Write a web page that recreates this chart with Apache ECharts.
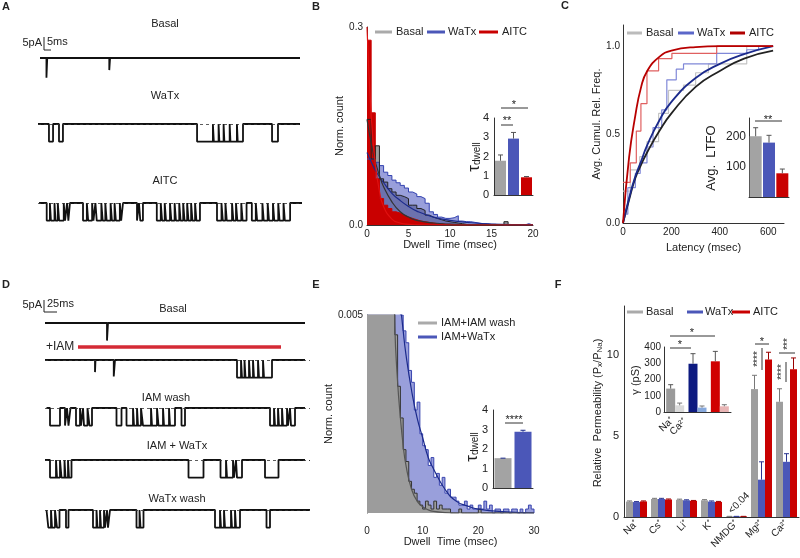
<!DOCTYPE html>
<html>
<head>
<meta charset="utf-8">
<title>Single channel recordings</title>
<script src="https://cdn.jsdelivr.net/npm/echarts@6.0.0/dist/echarts.min.js"></script>
<style>
  html, body { margin: 0; padding: 0; background: #fff; }
  #chart { width: 800px; height: 558px; }
</style>
</head>
<body>
<div id="chart"></div>
<script>
const FONT = '"Liberation Sans", Arial, Helvetica, sans-serif';
const GRAY = '#a0a0a0', BLUE = '#4b57b8', RED = '#c90000', NAVY = '#1b2a8c';

// ---- A: example traces, time in ms (0-200), openings [start, end, amp pA]
const aBasalOpen = [[6.4, 7.0, -9], [54.0, 54.6, -5.5]];
const aWatxOpen = [[8.3, 11.4], [15.9, 18.9], [120.5, 132.5], [133.2, 136.8], [137.4, 140.6],
  [141.2, 145.2], [145.8, 150.7], [151.3, 155.3], [177.3, 181.8]];
const aAitcOpen = [[6.6, 9], [9.8, 12.5], [13.3, 15], [16, 19.5], [20.5, 22], [23, 24.2],
  [34.1, 37], [38, 41], [42, 43.5], [44.5, 48], [49, 51], [52, 55], [56, 58], [59, 62], [63, 64.4],
  [75, 76.5], [77.5, 79.5],
  [90, 93], [94, 96], [97, 100], [101, 103.5], [104.5, 107], [108, 110], [111, 113], [114, 116], [117, 119], [120, 122.7],
  [135.6, 139], [140, 142], [143, 147], [148, 150], [151, 154], [155, 158],
  [162, 165], [166, 170], [171, 174], [175, 178], [179, 182], [183, 186], [187, 191]];

// ---- D: IAM traces, time in ms (0-530)
const dBasalOpen = [[124, 126, -8]];
const dIamOpen = [[100, 101, -5.5], [137.5, 140, -7.5], [384, 392], [394, 399], [401, 408], [410, 416],
  [418, 426], [428, 436], [438, 454]];
const dWashOpen = [[10, 30], [40, 44], [47, 51], [62, 70], [72, 76], [78, 85], [89, 94], [143, 153],
  [163, 176], [178, 184], [186, 192], [196, 212], [214, 224], [227, 236], [238, 248], [250, 260], [273, 280],
  [450, 458], [460, 466], [468, 474], [476, 484], [486, 490], [492, 500]];
const dIamWatxOpen = [[10, 22], [24, 30], [33, 39], [41, 46], [48, 53], [287, 317], [351, 362], [364, 376],
  [378, 382], [384, 394], [440, 467]];
const dWatxWashOpen = [[6.7, 12], [14, 20], [24, 29], [42, 47], [96, 103], [105, 110], [112, 118], [120, 124],
  [126, 130], [183, 189], [191, 197], [340, 350], [352, 358], [360, 372], [374, 380], [382, 390], [443, 450]];

// ---- B: dwell time histograms, 0.5 ms bins
const bBin = 0.5;
const bBasal = [0.16, 0.10, 0.12, 0.07, 0.065, 0.055, 0.05, 0.045, 0.043, 0.04,
  0.03, 0.03, 0.025, 0.022, 0.015, 0.012, 0.01, 0.008, 0.006, 0.005,
  0.004, 0.003, 0.002, 0.001, 0, 0, 0, 0, 0, 0,
  0, 0, 0, 0.005, 0, 0, 0, 0, 0, 0];
const bWatx = [0.10, 0.10, 0.095, 0.09, 0.08, 0.075, 0.068, 0.064, 0.06, 0.056,
  0.05, 0.047, 0.043, 0.04, 0.033, 0.02, 0.016, 0.012, 0.01, 0.01,
  0.011, 0.014, 0.006, 0.005, 0.005, 0.004, 0.003, 0.002, 0.002, 0.001,
  0.001, 0, 0, 0, 0, 0, 0, 0, 0.002, 0];
const bAitc = [0.28, 0.17, 0.07, 0.04, 0.03, 0.025, 0.02, 0.018, 0.015, 0.012,
  0.01, 0.008, 0.006, 0.005, 0.004, 0.003, 0.002, 0.002, 0.001, 0.001,
  0, 0, 0, 0, 0, 0, 0, 0, 0, 0,
  0, 0, 0, 0, 0, 0, 0, 0, 0, 0];
const bFitT = [0, 0.5, 1, 1.5, 2, 3, 4, 5, 6, 8, 10, 12, 15, 20];
const bBasalFit = [0.16, 0.124, 0.096, 0.075, 0.058, 0.035, 0.02, 0.012, 0.007, 0.003, 0.0012, 0.0005, 0.0001, 0];
const bWatxFit = [0.11, 0.096, 0.083, 0.073, 0.064, 0.048, 0.037, 0.028, 0.021, 0.012, 0.007, 0.004, 0.0015, 0.0003];
const bAitcFit = [0.30, 0.166, 0.092, 0.051, 0.028, 0.009, 0.003, 0.001, 0.0003, 0, 0, 0, 0, 0];
const tauCats = ['Basal', 'WaTx', 'AITC'];
const tauMean = [1.78, 2.93, 0.92];
const tauErr = [0.3, 0.32, 0.04];

// ---- C: cumulative latency to first opening
const cAitcStepT = [0, 30, 55, 74, 99, 147, 202, 387, 620];
const cAitcStepV = [0.23, 0.34, 0.52, 0.675, 0.86, 0.93, 0.96, 1.0, 1.0];
const cWatxStepT = [0, 20, 51, 71, 99, 124, 160, 181, 220, 250, 387, 511, 560, 620];
const cWatxStepV = [0.05, 0.2, 0.28, 0.34, 0.43, 0.54, 0.64, 0.81, 0.87, 0.9, 0.96, 0.98, 1.0, 1.0];
const cBasalStepT = [0, 30, 69, 99, 147, 188, 250, 300, 353, 511, 620];
const cBasalStepV = [0.18, 0.3, 0.375, 0.46, 0.62, 0.75, 0.78, 0.85, 0.9, 1.0, 1.0];
const cFitT = [0, 25, 50, 75, 100, 150, 200, 300, 400, 500, 620];
const cAitcFit = [0, 0.37, 0.6, 0.77, 0.86, 0.94, 0.975, 0.995, 1, 1, 1];
const cWatxFit = [0, 0.14, 0.26, 0.35, 0.44, 0.58, 0.685, 0.82, 0.9, 0.955, 1.0];
const cBasalFit = [0, 0.13, 0.25, 0.33, 0.40, 0.52, 0.62, 0.77, 0.86, 0.93, 0.975];
const ltfoMean = [200, 179, 78];
const ltfoErr = [28, 24, 14];

// ---- E: IAM dwell time histograms, 0.5 ms bins
const eBin = 0.5;
const eWatx = [0.01, 0.01, 0.01, 0.01, 0.01, 0.01, 0.01, 0.01, 0.01, 0.01,
  0.0065, 0.0055, 0.005, 0.0046, 0.0043, 0.0036, 0.0033, 0.0026, 0.0028, 0.002,
  0.0017, 0.0016, 0.0012, 0.0014, 0.0009, 0.001, 0.0007, 0.0009, 0.0005, 0.0006,
  0.0004, 0.0004, 0.0003, 0.0002, 0.0002, 0.0003, 0.0001, 0.0002, 0.0001, 0.0001,
  0.0002, 0.0001, 0.0003, 0.0001, 0.0002, 0, 0.0001, 0.0001, 0, 0.0001,
  0.0001, 0, 0.0001, 0.0001, 0, 0.0001, 0, 0.0001, 0.0002, 0.0001];
const eBasal = [0.01, 0.01, 0.01, 0.01, 0.01, 0.01, 0.01, 0.01, 0.01, 0.01,
  0.0045, 0.0032, 0.0024, 0.0016, 0.0013, 0.0008, 0.0006, 0.0005, 0.0003, 0.0002,
  0.0001, 0.0003, 0.0002, 0.0001, 0.0003, 0.0001, 0.0002, 0.0001, 0.0001, 0.0001,
  0, 0, 0, 0.0001, 0, 0, 0, 0, 0, 0,
  0.0001, 0, 0, 0, 0, 0, 0, 0, 0, 0,
  0, 0, 0, 0, 0, 0, 0, 0, 0, 0];
const eFitT = [4, 5, 5.5, 6, 6.5, 7, 8, 9, 10, 11, 12, 14, 16, 18, 20, 25, 30];
const eBasalFit = [0.011, 0.0047, 0.0033, 0.0024, 0.0017, 0.0012, 0.0006, 0.0003, 0.00016, 0.00008, 0.00004, 0.00001, 0, 0, 0, 0, 0];
const eWatxFit = [0.011, 0.0072, 0.0062, 0.0053, 0.0046, 0.004, 0.0031, 0.0024, 0.0019, 0.0014, 0.0011, 0.0006, 0.0003, 0.00018, 0.0001, 0.00003, 0];
const eTauCats = ['IAM+IAM wash', 'IAM+WaTx'];
const eTauMean = [1.53, 2.89];
const eTauErr = [0, 0.07];

// ---- F: relative permeability
const ions = ['Na⁺', 'Cs⁺', 'Li⁺', 'K⁺', 'NMDG⁺', 'Mg²⁺', 'Ca²⁺'];
const fBasal = [0.95, 1.11, 1.06, 1.03, 0.04, 7.88, 7.1];
const fBasalErr = [0.04, 0.04, 0.04, 0.04, 0, 0.85, 0.8];
const fWatx = [0.92, 1.11, 1.03, 0.95, 0.04, 2.3, 3.4];
const fWatxErr = [0.03, 0.04, 0.03, 0.04, 0, 1.1, 0.5];
const fAitc = [0.96, 1.08, 1.0, 0.93, 0.04, 9.7, 9.1];
const fAitcErr = [0.03, 0.03, 0.02, 0.03, 0, 0.45, 0.7];
const gCats = ['Basal', 'WaTx', 'AITC'];
const gNa = [144, 297, 312];
const gNaErr = [24, 62, 61];
const gCa = [41, 27, 35];
const gCaErr = [14, 10, 10];

// ---------- helpers ----------
function hist(vals, w) {
  const p = vals.map((v, i) => [i * w, v]);
  p.push([vals.length * w, vals[vals.length - 1]], [vals.length * w, 0]);
  return p;
}
function pairs(t, v) { return t.map((x, i) => [x, v[i]]); }
function trace(t0, t1, events) {
  const pts = [[t0, 0]];
  events.forEach(e => {
    const a = e.length > 2 ? e[2] : -8;
    pts.push([e[0], 0], [e[0], a], [e[1], a], [e[1], 0]);
  });
  pts.push([t1, 0]);
  return pts;
}

const axLine = { show: true, onZero: false, lineStyle: { color: '#333', width: 1 } };
const noTick = { show: false };
const noSplit = { show: false };
const lab = o => Object.assign({ color: '#222', fontSize: 10, fontFamily: FONT, margin: 4 }, o || {});
const nameStyle = { color: '#222', fontSize: 11, fontFamily: FONT };

function valAxis(gi, min, max, interval, o) {
  return Object.assign({
    gridIndex: gi, type: 'value', min, max, interval,
    axisLine: axLine, axisTick: noTick, splitLine: noSplit, axisLabel: lab()
  }, o || {});
}
function catAxis(gi, cats, o) {
  return Object.assign({
    gridIndex: gi, type: 'category', data: cats,
    axisLine: axLine, axisTick: noTick, splitLine: noSplit, axisLabel: { show: false }
  }, o || {});
}
function hidden(gi, min, max) {
  return { gridIndex: gi, type: 'value', min, max, show: false };
}

function errBars(gi, means, errs, nSer, idx, barW, color) {
  return {
    type: 'custom', xAxisIndex: gi, yAxisIndex: gi, silent: true, z: 3,
    data: means.map((m, i) => [i, m, m + errs[i]]),
    renderItem: (p, api) => {
      const a = api.coord([api.value(0), api.value(1)]);
      const b = api.coord([api.value(0), api.value(2)]);
      const x = a[0] + (idx - (nSer - 1) / 2) * barW;
      return {
        type: 'group', children: [
          { type: 'line', shape: { x1: x, y1: a[1], x2: x, y2: b[1] }, style: { stroke: color, lineWidth: 1 } },
          { type: 'line', shape: { x1: x - 2.5, y1: b[1], x2: x + 2.5, y2: b[1] }, style: { stroke: color, lineWidth: 1 } }
        ]
      };
    }
  };
}
function colored(vals, colors) {
  return vals.map((v, i) => ({ value: v, itemStyle: { color: colors[i] } }));
}

// ---------- grids ----------
const grids = [
  { left: 367, top: 27, width: 166, height: 198 },   // 0 B
  { left: 494, top: 118, width: 39, height: 77 },    // 1 B inset
  { left: 623, top: 25, width: 161, height: 198 },   // 2 C
  { left: 749, top: 118, width: 40, height: 79 },    // 3 C inset
  { left: 367, top: 315, width: 167, height: 198 },  // 4 E
  { left: 493, top: 410, width: 40, height: 78 },    // 5 E inset
  { left: 624, top: 306, width: 175, height: 211 },  // 6 F
  { left: 664, top: 347, width: 67, height: 65 }     // 7 F inset
];
const aBase = [58, 124, 203];
const dBase = [323, 360, 408, 460, 510];
const PX_PA = 2.2;
aBase.forEach(b => grids.push({ left: 38, top: b - 2 * PX_PA, width: 264, height: 12 * PX_PA }));
dBase.forEach(b => grids.push({ left: 45, top: b - 2 * PX_PA, width: 265, height: 12 * PX_PA }));
grids.forEach(g => { g.containLabel = false; g.outerBoundsMode = 'none'; });

const xAxes = [
  valAxis(0, 0, 20, 5, { name: 'Dwell  Time (msec)', nameLocation: 'middle', nameGap: 14, nameTextStyle: nameStyle }),
  catAxis(1, tauCats),
  valAxis(2, 0, 665, 200, { axisLabel: lab({ showMaxLabel: false }), name: 'Latency (msec)', nameLocation: 'middle', nameGap: 19, nameTextStyle: nameStyle }),
  catAxis(3, tauCats),
  valAxis(4, 0, 30, 10, { axisLine: { show: false }, axisLabel: lab({ margin: 13 }), name: 'Dwell  Time (msec)', nameLocation: 'middle', nameGap: 20, nameTextStyle: nameStyle }),
  catAxis(5, eTauCats),
  catAxis(6, ions, { axisLabel: { show: true, rotate: 45, interval: 0, color: '#222', fontSize: 10, fontFamily: FONT, margin: 5 } }),
  catAxis(7, gCats)
];
const yAxes = [
  valAxis(0, 0, 0.3, 0.3, { axisLabel: lab({ formatter: v => v.toFixed(1) }), name: 'Norm. count', nameLocation: 'middle', nameGap: 10, nameTextStyle: nameStyle }),
  valAxis(1, 0, 4, 1, { axisLabel: lab({ fontSize: 11, margin: 5 }) }),
  valAxis(2, 0, 1.12, 0.5, { axisLabel: lab({ formatter: v => v.toFixed(1), showMaxLabel: false, margin: 3 }), name: 'Avg. Cumul. Rel. Freq.', nameLocation: 'middle', nameGap: 20, nameTextStyle: nameStyle }),
  valAxis(3, 0, 260, 100, { axisLabel: lab({ fontSize: 12, showMinLabel: false, showMaxLabel: false, margin: 3 }) }),
  valAxis(4, 0, 0.005, 0.005, { axisLabel: lab({ formatter: v => (v ? '0.005' : '') }), name: 'Norm. count', nameLocation: 'middle', nameGap: 10, nameTextStyle: nameStyle }),
  valAxis(5, 0, 4, 1, { axisLabel: lab({ fontSize: 11, margin: 5 }) }),
  valAxis(6, 0, 13, 5, { axisLabel: lab({ fontSize: 11, showMaxLabel: false, margin: 5 }) }),
  valAxis(7, 0, 400, 100, { axisLabel: lab({ margin: 3 }) })
];
for (let i = 0; i < 3; i++) { xAxes.push(hidden(8 + i, 0, 200)); yAxes.push(hidden(8 + i, -10, 2)); }
for (let i = 0; i < 5; i++) { xAxes.push(hidden(11 + i, 0, 530)); yAxes.push(hidden(11 + i, -10, 2)); }

// ---------- series ----------
const line = (gi, data, color, width, o) => Object.assign({
  type: 'line', xAxisIndex: gi, yAxisIndex: gi, data, symbol: 'none', silent: true,
  lineStyle: { color, width }
}, o || {});
const dash = { silent: true, symbol: 'none', label: { show: false }, lineStyle: { type: [3, 3], color: '#333', width: 0.8 }, data: [{ yAxis: 0 }] };
const tr = (gi, pts, dashed) => line(gi, pts, '#111', 1.8, dashed ? { markLine: dash } : {});

const series = [
  // B histograms
  line(0, hist(bBasal, bBin), GRAY, 0, { step: 'end', areaStyle: { color: '#9c9c9c', opacity: 1 } }),
  line(0, hist(bWatx, bBin), '#3342b0', 1, { step: 'end', areaStyle: { color: 'rgba(70,80,190,0.55)', opacity: 1 } }),
  line(0, hist(bAitc, bBin), RED, 1, { step: 'end', areaStyle: { color: RED, opacity: 1 } }),
  line(0, hist(bBasal, bBin), '#222', 1, { step: 'end' }),
  line(0, pairs(bFitT, bWatxFit), NAVY, 1.2, { smooth: true }),
  line(0, pairs(bFitT, bBasalFit), '#333', 1.2, { smooth: true }),
  line(0, pairs(bFitT, bAitcFit), '#e01010', 1.2, { smooth: true }),
  // B inset
  { type: 'bar', xAxisIndex: 1, yAxisIndex: 1, barWidth: 11, data: colored(tauMean, ['#a3a3a3', BLUE, RED]), silent: true },
  errBars(1, tauMean, tauErr, 1, 0, 11, '#555'),
  // C steps + fits
  line(2, pairs(cBasalStepT, cBasalStepV), '#c4c4c4', 1.2, { step: 'end' }),
  line(2, pairs(cWatxStepT, cWatxStepV), '#8088d8', 1.2, { step: 'end' }),
  line(2, pairs(cAitcStepT, cAitcStepV), '#e06060', 1.2, { step: 'end' }),
  line(2, pairs(cFitT, cBasalFit), '#222', 1.8, { smooth: true }),
  line(2, pairs(cFitT, cWatxFit), NAVY, 1.8, { smooth: true }),
  line(2, pairs(cFitT, cAitcFit), '#b80000', 1.8, { smooth: true }),
  // C inset
  { type: 'bar', xAxisIndex: 3, yAxisIndex: 3, barWidth: 12, data: colored(ltfoMean, ['#a3a3a3', BLUE, RED]), silent: true },
  errBars(3, ltfoMean, ltfoErr, 1, 0, 12, '#555'),
  // E histograms
  line(4, hist(eWatx, eBin), '#3a46b0', 1, { step: 'end', areaStyle: { color: 'rgba(70,80,190,0.55)', opacity: 1 } }),
  line(4, hist(eBasal, eBin), '#333', 1, { step: 'end', areaStyle: { color: '#9c9c9c', opacity: 1 } }),
  line(4, pairs(eFitT, eWatxFit), NAVY, 1.2, { smooth: true }),
  line(4, pairs(eFitT, eBasalFit), '#555', 1.2, { smooth: true }),
  // E inset
  { type: 'bar', xAxisIndex: 5, yAxisIndex: 5, barWidth: 17, data: colored(eTauMean, ['#a3a3a3', BLUE]), silent: true },
  errBars(5, eTauMean, eTauErr, 1, 0, 17, NAVY),
  // F bars
  { type: 'bar', xAxisIndex: 6, yAxisIndex: 6, barWidth: 7, barGap: '0%', data: fBasal, itemStyle: { color: '#9e9e9e' }, silent: true },
  { type: 'bar', xAxisIndex: 6, yAxisIndex: 6, barWidth: 7, barGap: '0%', data: fWatx, itemStyle: { color: BLUE }, silent: true },
  { type: 'bar', xAxisIndex: 6, yAxisIndex: 6, barWidth: 7, barGap: '0%', data: fAitc, itemStyle: { color: RED }, silent: true },
  errBars(6, fBasal, fBasalErr, 3, 0, 7, '#777'),
  errBars(6, fWatx, fWatxErr, 3, 1, 7, '#2a3590'),
  errBars(6, fAitc, fAitcErr, 3, 2, 7, '#900'),
  // F inset
  { type: 'bar', xAxisIndex: 7, yAxisIndex: 7, barWidth: 9, barGap: '0%', data: colored(gNa, ['#9a9a9a', '#0d1a80', '#d00000']), silent: true },
  { type: 'bar', xAxisIndex: 7, yAxisIndex: 7, barWidth: 9, barGap: '0%', data: colored(gCa, ['#dadada', '#86a8dc', '#e8b4b4']), silent: true },
  errBars(7, gNa, gNaErr, 2, 0, 9, '#555'),
  errBars(7, gCa, gCaErr, 2, 1, 9, '#777'),
  // A traces
  tr(8, trace(1.5, 198.5, aBasalOpen), false),
  tr(9, trace(0, 198.5, aWatxOpen), true),
  tr(10, trace(0.8, 200, aAitcOpen), true),
  // D traces
  tr(11, trace(0, 520, dBasalOpen), false),
  tr(12, trace(0, 520, dIamOpen), true),
  tr(13, trace(3, 520, dWashOpen), true),
  tr(14, trace(0, 520, dIamWatxOpen), true),
  tr(15, trace(3, 530, dWatxWashOpen), true)
];

// ---------- annotations ----------
function T(x, y, text, o) {
  o = o || {};
  const size = o.size || 11;
  const st = {
    text, fill: o.color || '#222', font: (o.bold ? 'bold ' : '') + size + 'px ' + FONT,
    align: o.align || 'center', verticalAlign: o.va || 'middle',
    textAlign: o.align || 'center', textVerticalAlign: o.va || 'middle'
  };
  if (o.rich) st.rich = o.rich;
  return { type: 'text', x, y, rotation: o.rot || 0, silent: true, z: 10, style: st };
}
function L(x1, y1, x2, y2, color, w) {
  return { type: 'line', silent: true, z: 10, shape: { x1, y1, x2, y2 }, style: { stroke: color || '#333', lineWidth: w || 1 } };
}
const R90 = Math.PI / 2, R45 = Math.PI / 4;
const tauRich = {
  t: { fontSize: 17, fontFamily: FONT, fill: '#222' },
  s: { fontSize: 10, fontFamily: FONT, fill: '#222', verticalAlign: 'bottom' }
};
const permRich = {
  s: { fontSize: 8, fontFamily: FONT, fill: '#222', verticalAlign: 'bottom' }
};

const graphics = [
  T(6, 7, 'A', { bold: true }), T(316, 7, 'B', { bold: true }), T(565, 6, 'C', { bold: true }),
  T(6, 285, 'D', { bold: true }), T(316, 285, 'E', { bold: true }), T(558, 285, 'F', { bold: true }),
  // A
  T(165, 24, 'Basal'), T(165, 96, 'WaTx'), T(165, 181, 'AITC'),
  T(42, 43, '5pA', { align: 'right' }), L(44, 37, 44, 50, '#222'), L(44, 50, 51, 50, '#222'), T(47, 42, '5ms', { align: 'left' }),
  // D
  T(42, 305, '5pA', { align: 'right' }), L(44, 300, 44, 312, '#222'), L(44, 312, 57, 312, '#222'), T(47, 304, '25ms', { align: 'left' }),
  T(173, 309, 'Basal'), T(46, 347, '+IAM', { align: 'left', size: 12 }), L(78, 347, 281, 347, '#d42a35', 3.5),
  T(166, 398, 'IAM wash'), T(177, 446, 'IAM + WaTx'), T(177, 499, 'WaTx wash'),
  // B legend + inset
  L(375, 32, 392, 32, '#aaa', 3), T(396, 32, 'Basal', { align: 'left' }),
  L(427, 32, 445, 32, BLUE, 3), T(448, 32, 'WaTx', { align: 'left' }),
  L(479, 32, 498, 32, RED, 3), T(502, 32, 'AITC', { align: 'left' }),
  T(474, 157, '{t|τ}{s|dwell}', { rot: R90, rich: tauRich }),
  L(501, 125, 513, 125), T(507, 121, '**'), L(501, 108, 528, 108), T(514, 105, '*'),
  // C legend + inset
  L(627, 33, 642, 33, '#bbb', 3), T(646, 33, 'Basal', { align: 'left' }),
  L(678, 33, 694, 33, '#5b67c9', 3), T(697, 33, 'WaTx', { align: 'left' }),
  L(730, 33, 745, 33, '#b00000', 3), T(749, 33, 'AITC', { align: 'left' }),
  T(711, 158, 'Avg.  LTFO', { rot: R90, size: 13 }),
  L(755, 121, 782, 121), T(768, 120, '**'),
  // E legend + inset
  L(418, 323, 437, 323, '#aaa', 3), T(441, 323, 'IAM+IAM wash', { align: 'left' }),
  L(418, 337, 437, 337, BLUE, 3), T(441, 337, 'IAM+WaTx', { align: 'left' }),
  T(472, 447, '{t|τ}{s|dwell}', { rot: R90, rich: tauRich }),
  L(505, 423, 523, 423), T(514, 420, '****'),
  // F legend, axis name, annotations
  L(627, 312, 643, 312, '#aaa', 3), T(646, 312, 'Basal', { align: 'left' }),
  L(687, 312, 703, 312, BLUE, 3), T(705, 312, 'WaTx', { align: 'left' }),
  L(732, 312, 750, 312, RED, 3), T(753, 312, 'AITC', { align: 'left' }),
  T(598, 413, 'Relative  Permeability (P{s|x}/P{s|Na})', { rot: R90, rich: permRich }),
  T(739, 503, '<0.04', { rot: R45, size: 10 }),
  L(755, 344, 769, 344), T(762, 342, '*'),
  L(762, 348, 762, 370), T(758, 359, '****', { rot: R90, size: 10 }),
  L(779, 353, 795, 353), T(788, 344, '***', { rot: R90, size: 10 }),
  L(786, 362, 786, 382), T(782, 372, '****', { rot: R90, size: 10 }),
  // F inset
  T(636, 380, 'γ (pS)', { rot: R90 }),
  L(670, 336, 715, 336), T(692, 333, '*'),
  L(670, 348, 691, 348), T(680, 345, '*'),
  T(672, 419, 'Na⁺', { rot: R45, align: 'right', size: 10 }),
  T(685, 420, 'Ca²⁺', { rot: R45, align: 'right', size: 10 })
];

const chart = echarts.init(document.getElementById('chart'));
chart.setOption({
  animation: false,
  backgroundColor: '#fff',
  textStyle: { fontFamily: FONT },
  grid: grids,
  xAxis: xAxes,
  yAxis: yAxes,
  series: series,
  graphic: { elements: graphics }
});
</script>
</body>
</html>
